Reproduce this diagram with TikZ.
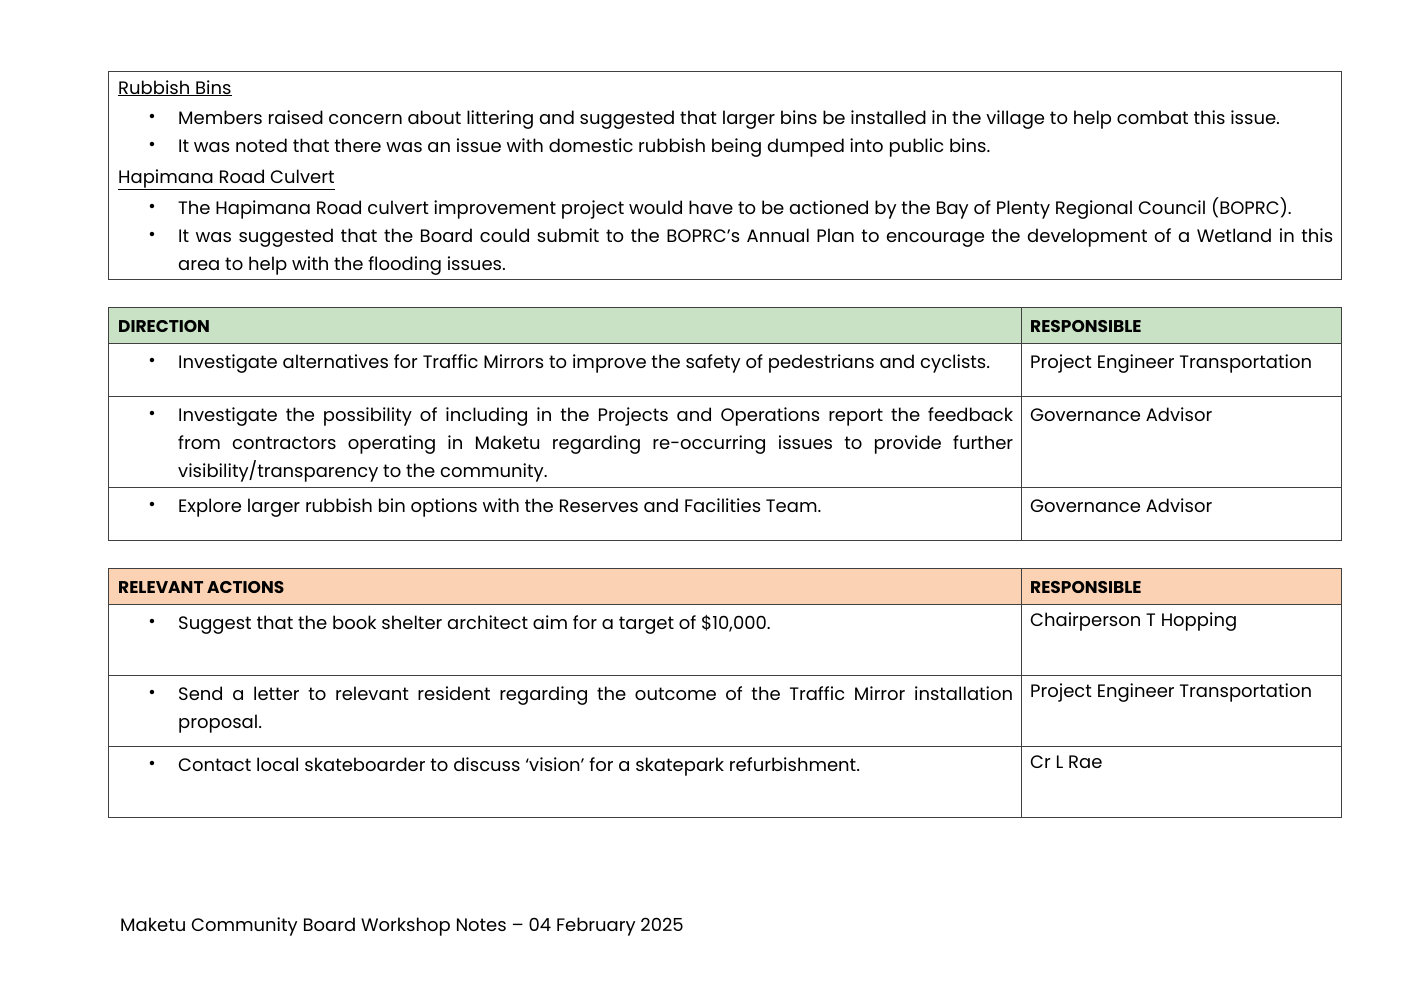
\documentclass[tikz,border=0pt]{standalone}
\usepackage{fontspec}
\setmainfont{Poppins}
\definecolor{hdrg}{HTML}{C9E2C6}
\definecolor{hdro}{HTML}{FBD3B4}
\begin{document}
\begin{tikzpicture}[x=1pt,y=-1pt,
  t/.style={anchor=base west,inner sep=0pt,font=\fontsize{18}{28}\selectfont},
  hb/.style={anchor=base west,inner sep=0pt,font=\fontsize{17}{28}\selectfont\bfseries},
  bul/.style={anchor=center,inner sep=0pt,font=\fontsize{18}{28}\selectfont},
  frame/.style={draw=black!75,line width=0.8pt}]
\useasboundingbox (0,0) rectangle (1408,996);
% box 1
\draw[frame] (108,71) rectangle (1341,279);
\node[t] (h1) at (118,94) {\underline{Rubbish Bins}};
\node[bul] (b1) at (152,118) {•};
\node[t] (l1) at (178,124) {Members raised concern about littering and suggested that larger bins be installed in the village to help combat this issue.};
\node[bul] (b2) at (152,146) {•};
\node[t] (l2) at (178,152) {It was noted that there was an issue with domestic rubbish being dumped into public bins.};
\node[t] (h2) at (118,183) {\underline{Hapimana Road Culvert}};
\node[bul] (b3) at (152,208) {•};
\node[t] (l3) at (178,214) {The Hapimana Road culvert improvement project would have to be actioned by the Bay of Plenty Regional Council (BOPRC).};
\node[bul] (b4) at (152,236) {•};
\node[t] (l4) at (178,242) {\makebox[1155pt][s]{It was suggested that the Board could submit to the BOPRC’s Annual Plan to encourage the development of a Wetland in this}};
\node[t] (l5) at (178,270) {area to help with the flooding issues.};
% table 2
\fill[hdrg] (108,307) rectangle (1341,343);
\draw[frame] (108,307) rectangle (1341,540);
\draw[frame] (108,343) -- (1341,343) (108,396) -- (1341,396) (108,487) -- (1341,487) (1021,307) -- (1021,540);
\node[hb] (d0) at (118,332) {DIRECTION};
\node[hb] (r0) at (1030,332) {RESPONSIBLE};
\node[bul] (db1) at (152,362) {•};
\node[t] (d1) at (178,368) {Investigate alternatives for Traffic Mirrors to improve the safety of pedestrians and cyclists.};
\node[t] (r1) at (1030,368) {Project Engineer Transportation};
\node[bul] (db2) at (152,415) {•};
\node[t] (d2a) at (178,421) {\makebox[835pt][s]{Investigate the possibility of including in the Projects and Operations report the feedback}};
\node[t] (d2b) at (178,449) {\makebox[835pt][s]{from contractors operating in Maketu regarding re-occurring issues to provide further}};
\node[t] (d2c) at (178,477) {visibility/transparency to the community.};
\node[t] (r2) at (1030,421) {Governance Advisor};
\node[bul] (db3) at (152,506) {•};
\node[t] (d3) at (178,512) {Explore larger rubbish bin options with the Reserves and Facilities Team.};
\node[t] (r3) at (1030,512) {Governance Advisor};
% table 3
\fill[hdro] (108,568) rectangle (1341,604);
\draw[frame] (108,568) rectangle (1341,817);
\draw[frame] (108,604) -- (1341,604) (108,675) -- (1341,675) (108,746) -- (1341,746) (1021,568) -- (1021,817);
\node[hb] (a0) at (118,593) {RELEVANT ACTIONS};
\node[hb] (s0) at (1030,593) {RESPONSIBLE};
\node[bul] (ab1) at (152,623) {•};
\node[t] (a1) at (178,629) {Suggest that the book shelter architect aim for a target of \$10,000.};
\node[t] (s1) at (1030,626) {Chairperson T Hopping};
\node[bul] (ab2) at (152,694) {•};
\node[t] (a2a) at (178,700) {\makebox[835pt][s]{Send a letter to relevant resident regarding the outcome of the Traffic Mirror installation}};
\node[t] (a2b) at (178,728) {proposal.};
\node[t] (s2) at (1030,697) {Project Engineer Transportation};
\node[bul] (ab3) at (152,765) {•};
\node[t] (a3) at (178,771) {Contact local skateboarder to discuss ‘vision’ for a skatepark refurbishment.};
\node[t] (s3) at (1030,768) {Cr L Rae};
% footer
\node[t] (f) at (120,931) {Maketu Community Board Workshop Notes – 04 February 2025};
\end{tikzpicture}
\end{document}
